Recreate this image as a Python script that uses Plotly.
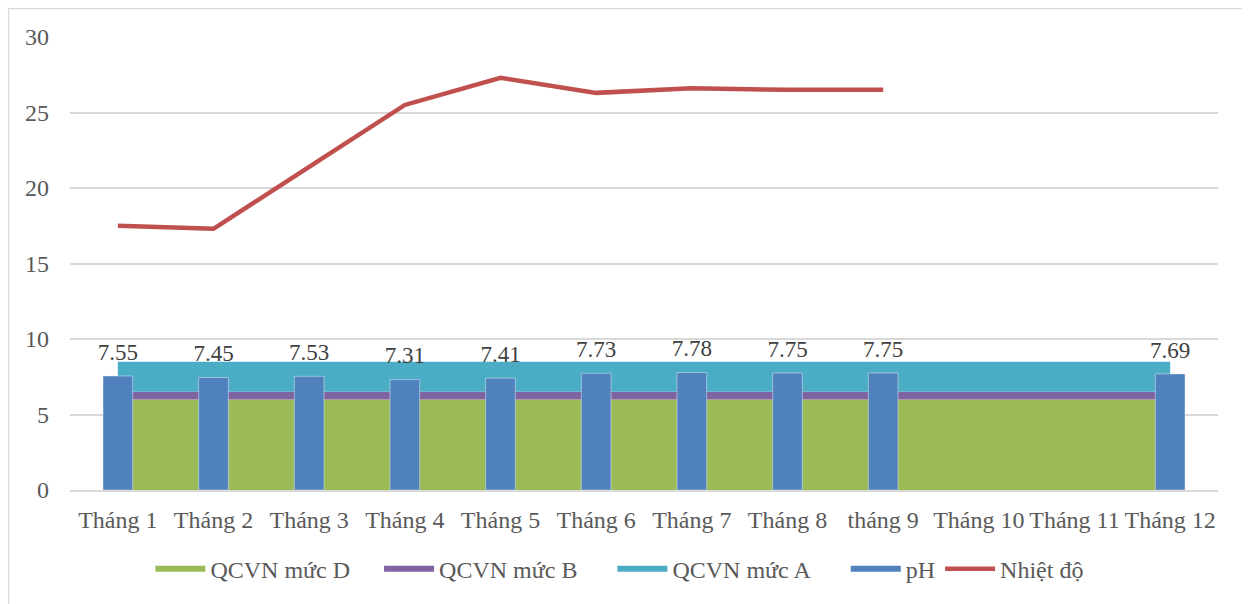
import plotly.graph_objects as go

months = ["Tháng 1", "Tháng 2", "Tháng 3", "Tháng 4", "Tháng 5", "Tháng 6",
          "Tháng 7", "Tháng 8", "tháng 9", "Tháng 10", "Tháng 11", "Tháng 12"]
qcvn_d = [6] * 12
qcvn_b = [0.5] * 12
qcvn_a = [2] * 12
ph = [7.55, 7.45, 7.53, 7.31, 7.41, 7.73, 7.78, 7.75, 7.75, None, None, 7.69]
nhiet_do = [17.5, 17.3, 21.4, 25.5, 27.3, 26.3, 26.6, 26.5, 26.5, None, None, None]

FONT = "Liberation Serif, Times New Roman, serif"
GREY = "#595959"
NB = "\u00a0"

fig = go.Figure()
for name, vals, col, pad in [("QCVN mức D", qcvn_d, "#9BBB59", 4),
                             ("QCVN mức B", qcvn_b, "#8064A2", 5),
                             ("QCVN mức A", qcvn_a, "#4BACC6", 5)]:
    fig.add_trace(go.Scatter(x=months, y=vals, name=name + NB * pad, stackgroup="q",
                             mode="none", fillcolor=col, xaxis="x", yaxis="y"))

fig.add_trace(go.Bar(x=months, y=ph, name="pH", marker_color="#4F81BD",
                     width=0.31, showlegend=False, xaxis="x2", yaxis="y2"))
# value labels above the pH bars
fig.add_trace(go.Scatter(x=months, y=ph, mode="markers+text",
                         text=[f"{v:.2f}" if v is not None else "" for v in ph],
                         textposition="top center",
                         marker=dict(size=15, opacity=0),
                         textfont=dict(family=FONT, size=23, color="#404040"),
                         showlegend=False, hoverinfo="skip", cliponaxis=False,
                         xaxis="x2", yaxis="y2"))
# legend entry for pH (filled rectangle)
fig.add_trace(go.Scatter(x=[months[0]], y=[None], name="pH", mode="none",
                         fill="toself", fillcolor="#4F81BD",
                         xaxis="x2", yaxis="y2"))
fig.add_trace(go.Scatter(x=months, y=nhiet_do, name="Nhiệt độ", mode="lines",
                         line=dict(color="#C0504D", width=4.5),
                         xaxis="x2", yaxis="y2"))

L, R, T, B = 62, 40, 29, 122
W, H = 1250, 604
PW, PH = W - L - R, H - T - B

axis_common = dict(type="category", categoryorder="array", categoryarray=months,
                   range=[-0.5, 11.5])
fig.update_layout(
    width=W, height=H,
    margin=dict(l=L, r=R, t=T, b=B),
    plot_bgcolor="white", paper_bgcolor="white",
    font=dict(family=FONT, size=24, color=GREY),
    barmode="overlay",
    xaxis=dict(**axis_common, showgrid=False, showline=True, linecolor="#D9D9D9",
               linewidth=1.5, ticks="", ticklabelstandoff=7,
               tickfont=dict(size=24, color=GREY)),
    yaxis=dict(range=[0, 30], dtick=5, showgrid=True, gridcolor="#D9D9D9",
               gridwidth=1.5, zeroline=False, ticks="", ticklabelstandoff=20,
               tickfont=dict(size=24, color=GREY)),
    xaxis2=dict(**axis_common, overlaying="x", visible=False),
    yaxis2=dict(range=[0, 30], overlaying="y", visible=False),
    legend=dict(orientation="h", x=0.479, xanchor="center", y=-0.125, yanchor="top",
                font=dict(size=24, color=GREY), itemwidth=50, traceorder="normal"),
    showlegend=True,
    shapes=[dict(type="rect", xref="paper", yref="paper",
                 x0=(0.5 - L) / PW, x1=(1240 - L) / PW,
                 y0=(PH + T - 610) / PH, y1=(PH + T - 0.5) / PH,
                 line=dict(color="#D9D9D9", width=1.5), fillcolor="rgba(0,0,0,0)")],
)

fig.write_html("out.html")
